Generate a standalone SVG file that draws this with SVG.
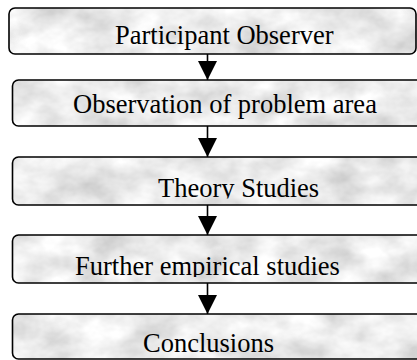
<svg xmlns="http://www.w3.org/2000/svg" width="417" height="360" viewBox="0 0 417 360">
  <style>
    .frame { fill: none; stroke: #000; stroke-width: 1.6; }
    .label { font-family: "Liberation Serif", "Times New Roman", serif; font-size: 26.5px; fill: #000; }
    .link { stroke: #000; stroke-width: 1.6; fill: none; marker-end: url(#head); }
  </style>
  <defs>
    <!-- marble-like grey noise for the box fills -->
    <filter id="marble" x="0" y="0" width="417" height="360" filterUnits="userSpaceOnUse">
      <feTurbulence type="fractalNoise" baseFrequency="0.025 0.035" numOctaves="4" seed="11" result="n"/>
      <feColorMatrix in="n" type="matrix" values="0.6 0 0 0 0.53  0.6 0 0 0 0.53  0.6 0 0 0 0.53  0 0 0 0 1"/>
    </filter>
    <rect id="texture" x="0" y="0" width="417" height="360" filter="url(#marble)"/>
    <clipPath id="c1"><rect x="9" y="8" width="407" height="46" rx="6"/></clipPath>
    <clipPath id="c2"><rect x="12.5" y="80" width="430" height="46" rx="6"/></clipPath>
    <clipPath id="c3"><rect x="12.5" y="157" width="430" height="48" rx="6"/></clipPath>
    <clipPath id="c4"><rect x="12.5" y="235" width="430" height="48" rx="6"/></clipPath>
    <clipPath id="c5"><rect x="12.5" y="314" width="430" height="45" rx="6"/></clipPath>
    <!-- text lines whose descenders are cut off -->
    <clipPath id="t3"><rect x="0" y="150" width="417" height="48.5"/></clipPath>
    <clipPath id="t4"><rect x="0" y="230" width="417" height="47"/></clipPath>
    <marker id="head" markerUnits="userSpaceOnUse" markerWidth="19" markerHeight="19" viewBox="0 0 18 18" refX="18" refY="9" orient="auto">
      <path d="M0,0 L18,9 L0,18 z" fill="#000"/>
    </marker>
  </defs>

  <g id="connectors">
    <line class="link" x1="207.5" y1="54" x2="207.5" y2="80"/>
    <line class="link" x1="207.5" y1="126" x2="207.5" y2="157"/>
    <line class="link" x1="207.5" y1="205" x2="207.5" y2="235"/>
    <line class="link" x1="207.5" y1="283" x2="207.5" y2="314"/>
  </g>

  <g id="participant-observer">
    <g clip-path="url(#c1)"><use href="#texture"/></g>
    <rect class="frame" x="9" y="8" width="407" height="46" rx="6"/>
    <text class="label" x="115" y="44">Participant Observer</text>
  </g>

  <g id="observation">
    <g clip-path="url(#c2)"><use href="#texture"/></g>
    <rect class="frame" x="12.5" y="80" width="430" height="46" rx="6"/>
    <text class="label" x="73" y="113">Observation of problem area</text>
  </g>

  <g id="theory-studies">
    <g clip-path="url(#c3)"><use href="#texture"/></g>
    <rect class="frame" x="12.5" y="157" width="430" height="48" rx="6"/>
    <text class="label" x="158" y="197" clip-path="url(#t3)">Theory Studies</text>
  </g>

  <g id="further-studies">
    <g clip-path="url(#c4)"><use href="#texture"/></g>
    <rect class="frame" x="12.5" y="235" width="430" height="48" rx="6"/>
    <text class="label" x="75" y="275" clip-path="url(#t4)">Further empirical studies</text>
  </g>

  <g id="conclusions">
    <g clip-path="url(#c5)"><use href="#texture"/></g>
    <rect class="frame" x="12.5" y="314" width="430" height="45" rx="6"/>
    <text class="label" x="143" y="352">Conclusions</text>
  </g>
</svg>
